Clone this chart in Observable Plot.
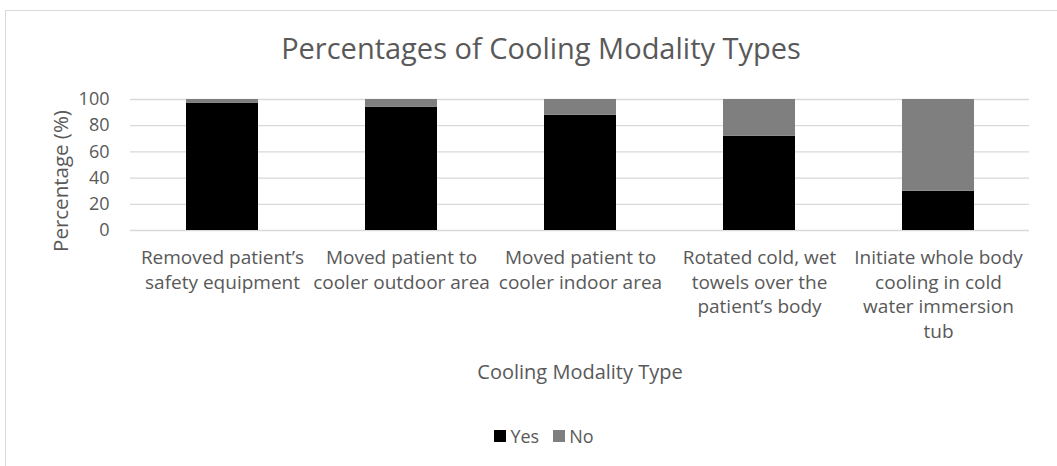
<!DOCTYPE html>
<html>
<head>
<meta charset="utf-8">
<script src="https://cdn.jsdelivr.net/npm/d3@7"></script>
<script src="https://cdn.jsdelivr.net/npm/@observablehq/plot@0.6"></script>
<style>
  html, body { margin: 0; padding: 0; background: #fff; }
  #wrap { position: relative; width: 1057px; height: 466px; overflow: hidden; font-family: "Open Sans", sans-serif; color: #595959; }
  #border { position: absolute; left: 5px; top: 10px; width: 1100px; height: 520px; border: 1px solid #d9d9d9; box-sizing: border-box; }
  #title { position: absolute; left: 0; width: 1082px; top: 28px; text-align: center; font-size: 29px; line-height: 40px; }
  #ytitle { position: absolute; left: 60px; top: 181px; width: 0; height: 0; }
  #ytitle span { position: absolute; left: 0; top: 0; white-space: nowrap; font-size: 20.5px; line-height: 28px; transform: translate(-50%, -50%) rotate(-90deg); }
  #chart { position: absolute; left: 0; top: 0; }
  #legend { position: absolute; left: 0; width: 1088px; top: 424px; display: flex; justify-content: center; align-items: center; font-size: 18px; line-height: 24px; }
  .sw { display: inline-block; width: 12px; height: 12px; margin-right: 4px; }
  .item { display: flex; align-items: center; margin: 0 7px; }
</style>
</head>
<body>
<div id="wrap">
  <div id="border"></div>
  <div id="title"></div>
  <div id="chart"></div>
  <div id="ytitle"><span></span></div>
  <div id="legend"></div>
</div>
<script>
const chartTitle = "Percentages of Cooling Modality Types";
const xTitle = "Cooling Modality Type";
const yTitle = "Percentage (%)";
const categories = ["Removed", "Outdoor", "Indoor", "Towels", "Tub"];
const tickLabels = [
  "Removed patient’s\nsafety equipment",
  "Moved patient to\ncooler outdoor area",
  "Moved patient to\ncooler indoor area",
  "Rotated cold, wet\ntowels over the\npatient’s body",
  "Initiate whole body\ncooling in cold\nwater immersion\ntub"
];
const seriesNames = ["Yes", "No"];
const seriesColors = ["#000000", "#7f7f7f"];
const yesValues = [97, 94, 88, 72, 30];
const noValues = [3, 6, 12, 28, 70];
const yTicks = [0, 20, 40, 60, 80, 100];

const rows = [];
categories.forEach((c, i) => {
  rows.push({cat: c, series: "Yes", value: yesValues[i]});
  rows.push({cat: c, series: "No", value: noValues[i]});
});
const labelOf = new Map(categories.map((c, i) => [c, tickLabels[i]]));

document.getElementById("title").textContent = chartTitle;
document.querySelector("#ytitle span").textContent = yTitle;

const plot = Plot.plot({
  width: 1057,
  height: 466,
  marginLeft: 130,
  marginRight: 28,
  marginTop: 99,
  marginBottom: 236,
  style: {fontFamily: "Open Sans, sans-serif", color: "#595959", background: "transparent"},
  x: {domain: categories, paddingInner: 0.6, paddingOuter: 0.3, axis: null},
  y: {domain: [0, 100], axis: null},
  color: {domain: seriesNames, range: seriesColors},
  marks: [
    Plot.ruleY(yTicks, {stroke: "#d9d9d9", strokeWidth: 1.3}),
    Plot.barY(rows, {x: "cat", y: "value", fill: "series", order: seriesNames}),
    Plot.axisY({ticks: yTicks, tickSize: 0, tickPadding: 21, fontSize: 18, fill: "#595959", label: null}),
    Plot.axisX({tickSize: 0, tickPadding: 16, fontSize: 19, lineHeight: 1.3, fill: "#595959", label: null, tickFormat: d => labelOf.get(d)}),
    Plot.text([xTitle], {text: d => d, frameAnchor: "bottom", dy: 148, fontSize: 20, fill: "#595959"})
  ]
});
document.getElementById("chart").appendChild(plot);

const legend = document.getElementById("legend");
seriesNames.forEach((s, i) => {
  const item = document.createElement("div");
  item.className = "item";
  const sw = document.createElement("span");
  sw.className = "sw";
  sw.style.background = seriesColors[i];
  const t = document.createElement("span");
  t.textContent = s;
  item.appendChild(sw);
  item.appendChild(t);
  legend.appendChild(item);
});
</script>
</body>
</html>
